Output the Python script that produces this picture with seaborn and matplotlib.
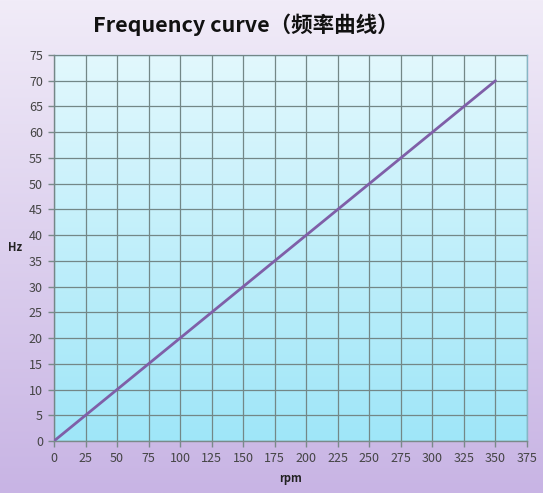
import numpy as np
import pandas as pd
import matplotlib
matplotlib.use("Agg")
import matplotlib.pyplot as plt
from matplotlib.colors import LinearSegmentedColormap
import seaborn as sns

rpm = [0, 350]
hz = [0, 70]
x_ticks = list(range(0, 376, 25))
y_ticks = list(range(0, 76, 5))

sns.set_style("white")
plt.rcParams['font.family'] = ['Noto Sans CJK SC', 'DejaVu Sans']

fig = plt.figure(figsize=(5.43, 4.93), dpi=100)

# lavender background gradient
bg = fig.add_axes([0, 0, 1, 1], zorder=-2)
bg_cmap = LinearSegmentedColormap.from_list("bg", ["#f1ecf8", "#c8b4e4"])
bg.imshow(np.linspace(0, 1, 256).reshape(-1, 1), aspect="auto", cmap=bg_cmap,
          extent=[0, 1, 0, 1], origin="upper")
bg.axis("off")

ax = fig.add_axes([54 / 543, 1 - 441 / 493, (527 - 54) / 543, (441 - 55) / 493])
plot_cmap = LinearSegmentedColormap.from_list("pa", ["#e2f8fd", "#9fe6f8"])
ax.imshow(np.linspace(0, 1, 256).reshape(-1, 1), aspect="auto", cmap=plot_cmap,
          extent=[0, 375, 0, 75], origin="upper", zorder=0)

df = pd.DataFrame({"rpm": rpm, "Hz": hz})
sns.lineplot(data=df, x="rpm", y="Hz", ax=ax, color="#7f5fa8", linewidth=2, zorder=3)

ax.set_xlim(0, 375)
ax.set_ylim(0, 75)
ax.set_xticks(x_ticks)
ax.set_yticks(y_ticks)
ax.grid(True, color="#738787", linewidth=0.9)
ax.set_axisbelow(False)
for line in ax.get_xgridlines() + ax.get_ygridlines():
    line.set_zorder(1)
for s in ax.spines.values():
    s.set_color("#86b6c6")
    s.set_linewidth(1)
ax.spines["left"].set_color("#7a8a8a")
ax.spines["bottom"].set_color("#7a8a8a")
ax.tick_params(axis="both", labelsize=9, colors="#444444", length=4, width=1,
               direction="out", left=True, bottom=True, pad=4)
ax.tick_params(axis="both", color="#7a8a8a")

ax.set_xlabel("rpm", fontsize=8, fontweight="bold", color="#222222", labelpad=5)
ax.set_ylabel("Hz", fontsize=8, fontweight="bold", color="#222222", rotation=0,
              labelpad=10, va="center")

fig.text(0.453, 0.95, "Frequency curve（频率曲线）", fontsize=15.5, fontweight="bold",
         color="#111111", ha="center", va="center")

fig.savefig("out.png", dpi=100)
